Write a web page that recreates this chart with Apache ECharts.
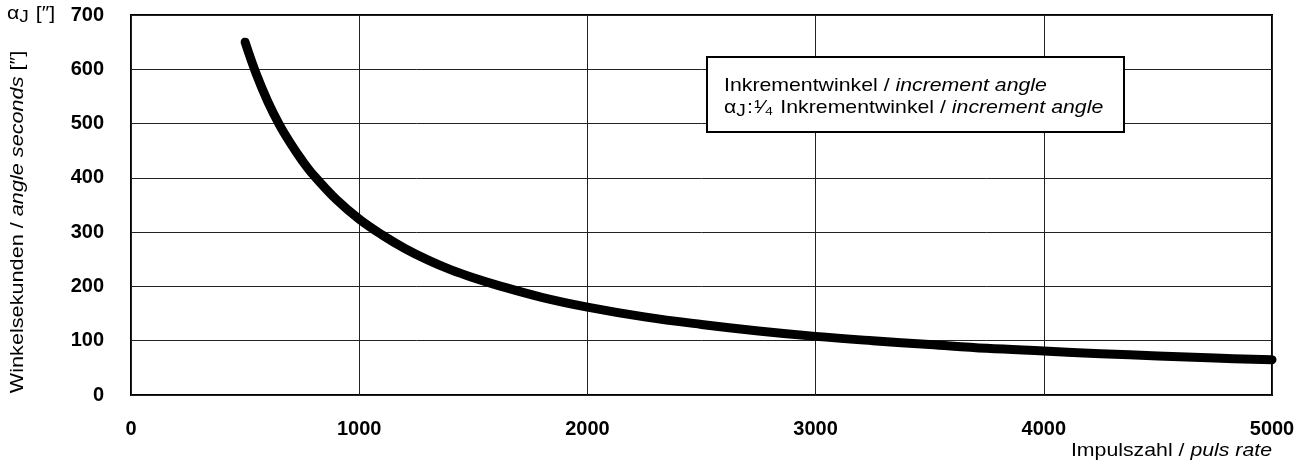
<!DOCTYPE html>
<html>
<head>
<meta charset="utf-8">
<script src="https://cdn.jsdelivr.net/npm/echarts@6/dist/echarts.min.js"></script>
<style>html,body{margin:0;padding:0;background:#fff}#c{width:1310px;height:469px}</style>
</head>
<body>
<div id="c"></div>
<script>
const pulses = [500, 550, 600, 650, 700, 750, 800, 900, 1000, 1100, 1200, 1300, 1400, 1500, 1600, 1800, 2000, 2250, 2500, 2750, 3000, 3250, 3500, 3750, 4000, 4250, 4500, 4750, 5000];
const angles = [650, 590, 540, 498, 463, 432, 405, 360, 324, 295, 270, 249, 231, 216, 203, 180, 162, 144, 130, 118, 108, 100, 93, 86, 81, 76, 72, 68, 65];
const xTicks = [0, 1000, 2000, 3000, 4000, 5000];
const yTicks = [0, 100, 200, 300, 400, 500, 600, 700];
const xAxisTitle = ['Impulszahl / ', 'puls rate'];
const yAxisTitle = ['Winkelsekunden / ', 'angle seconds', ' [″]'];
const unitLabel = ['α', 'J', ' [″]'];
const legendLines = [['Inkrementwinkel / ', 'increment angle'], ['α', 'J', ':', '¹⁄₄', ' Inkrementwinkel / ', 'increment angle']];

const font = '"Liberation Sans", Arial, Helvetica, sans-serif';
const FS = 19;
const SX = 1.12;
const rich = {
  n: { fontSize: FS, fontFamily: font, fill: '#000' },
  i: { fontSize: FS, fontFamily: font, fill: '#000', fontStyle: 'italic' },
  s: { fontSize: FS - 2, fontFamily: font, fill: '#000', padding: [6, 1, 0, 0] },
  f: { fontSize: FS, fontFamily: font, fill: '#000', padding: [0, 1, 0, 1] }
};
const chart = echarts.init(document.getElementById('c'));
chart.setOption({
  animation: false,
  backgroundColor: '#fff',
  grid: { left: 131, right: 38, top: 15, bottom: 74, show: true, borderColor: '#000', borderWidth: 2 },
  xAxis: {
    type: 'value', min: xTicks[0], max: xTicks[xTicks.length - 1], interval: 1000,
    axisLine: { show: false }, axisTick: { show: false },
    splitLine: { show: true, lineStyle: { color: '#222', width: 1 } },
    axisLabel: { margin: 24, color: '#000', fontWeight: 'bold', fontSize: 20, fontFamily: font, formatter: v => String(v) }
  },
  yAxis: {
    type: 'value', min: yTicks[0], max: yTicks[yTicks.length - 1], interval: 100,
    axisLine: { show: false }, axisTick: { show: false },
    splitLine: { show: true, lineStyle: { color: '#222', width: 1 } },
    axisLabel: { margin: 27, color: '#000', fontWeight: 'bold', fontSize: 20, fontFamily: font, formatter: v => String(v) }
  },
  series: [{
    type: 'line', data: pulses.map((p, i) => [p, angles[i]]), smooth: 0.4, showSymbol: false,
    lineStyle: { color: '#000', width: 9, cap: 'round', join: 'round' }
  }],
  graphic: [
    {
      type: 'text', x: 7, y: 14, scaleX: SX,
      style: {
        text: '{n|' + unitLabel[0] + '}{s|' + unitLabel[1] + '}{n|' + unitLabel[2] + '}',
        align: 'left', verticalAlign: 'middle', rich: rich
      }
    },
    {
      type: 'text', x: 18, y: 222, rotation: Math.PI / 2, scaleX: 1.14,
      style: {
        text: '{n|' + yAxisTitle[0] + '}{i|' + yAxisTitle[1] + '}{n|' + yAxisTitle[2] + '}',
        align: 'center', verticalAlign: 'middle', rich: rich
      }
    },
    {
      type: 'text', x: 1272, y: 451, scaleX: SX,
      style: {
        text: '{n|' + xAxisTitle[0] + '}{i|' + xAxisTitle[1] + '}',
        align: 'right', verticalAlign: 'middle', rich: rich
      }
    },
    {
      type: 'rect', shape: { x: 707, y: 57, width: 417, height: 75 },
      style: { fill: '#fff', stroke: '#000', lineWidth: 2 }, z: 10
    },
    {
      type: 'text', x: 724, y: 86, z: 11, scaleX: SX,
      style: {
        text: '{n|' + legendLines[0][0] + '}{i|' + legendLines[0][1] + '}',
        align: 'left', verticalAlign: 'middle', rich: rich
      }
    },
    {
      type: 'text', x: 724, y: 108, z: 11, scaleX: SX,
      style: {
        text: '{n|' + legendLines[1][0] + '}{s|' + legendLines[1][1] + '}{n|' + legendLines[1][2] + '}{f|' + legendLines[1][3] + '}{n|' + legendLines[1][4] + '}{i|' + legendLines[1][5] + '}',
        align: 'left', verticalAlign: 'middle', rich: rich
      }
    }
  ]
});
</script>
</body>
</html>
